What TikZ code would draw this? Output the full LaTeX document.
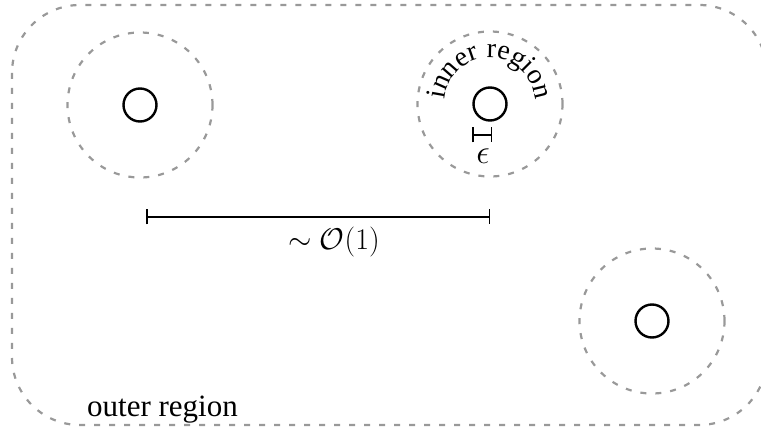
\RequirePackage{fix-cm}
\documentclass[tikz,border=0pt]{standalone}
\usepackage{fontspec}
\setmainfont{Liberation Serif}
\usetikzlibrary{arrows.meta,decorations.text}
\tikzset{
  region/.style={draw=black!40, line width=2.2pt, dash pattern=on 6pt off 9pt},
  regionc/.style={region, circle, minimum size=145pt, inner sep=0pt},
  particle/.style={draw=black, line width=2.4pt, circle, minimum size=33pt, inner sep=0pt},
  lbl/.style={font=\fontsize{30}{34}\selectfont, inner sep=0pt},
  measure/.style={line width=1.5pt, {Bar[width=15pt,line width=1.5pt]}-{Bar[width=15pt,line width=1.5pt]}}
}
\begin{document}
\begin{tikzpicture}[x=1pt,y=-1pt]
\useasboundingbox (0,0) rectangle (761,430);
\clip (0,0) rectangle (761,430);
% outer region
\draw[region, rounded corners=68pt] (12,5) rectangle (767,425);
% inner regions
\node[regionc] (r1) at (140,105) {};
\node[regionc] (r2) at (490,104) {};
\node[regionc] (r3) at (652,321) {};
% particles
\node[particle] (c1) at (140,105) {};
\node[particle] (c2) at (490,104) {};
\node[particle] (c3) at (652,321) {};
% inner region label
\path[decorate, decoration={text along path, text align=center,
  text={|\fontsize{28}{30}\selectfont|inner region}}]
  (c2.center) ++(180:46) arc[start angle=180, end angle=360, radius=46];
% epsilon bar
\coordinate (e1) at (472,135);
\coordinate (e2) at (492,135);
\draw[measure] (e1) -- (e2);
\node[lbl, font=\fontsize{34}{36}\selectfont] (eps) at (483,156) {$\epsilon$};
% O(1) bar
\coordinate (o1) at (146,217);
\coordinate (o2) at (490,217);
\draw[measure] (o1) -- (o2);
\node[lbl] (ord) at (334,242) {$\sim\mathcal{O}(1)$};
% outer region label
\node[lbl, font=\fontsize{31}{34}\selectfont, anchor=base west] (outer) at (87,417) {outer region};
\end{tikzpicture}
\end{document}
